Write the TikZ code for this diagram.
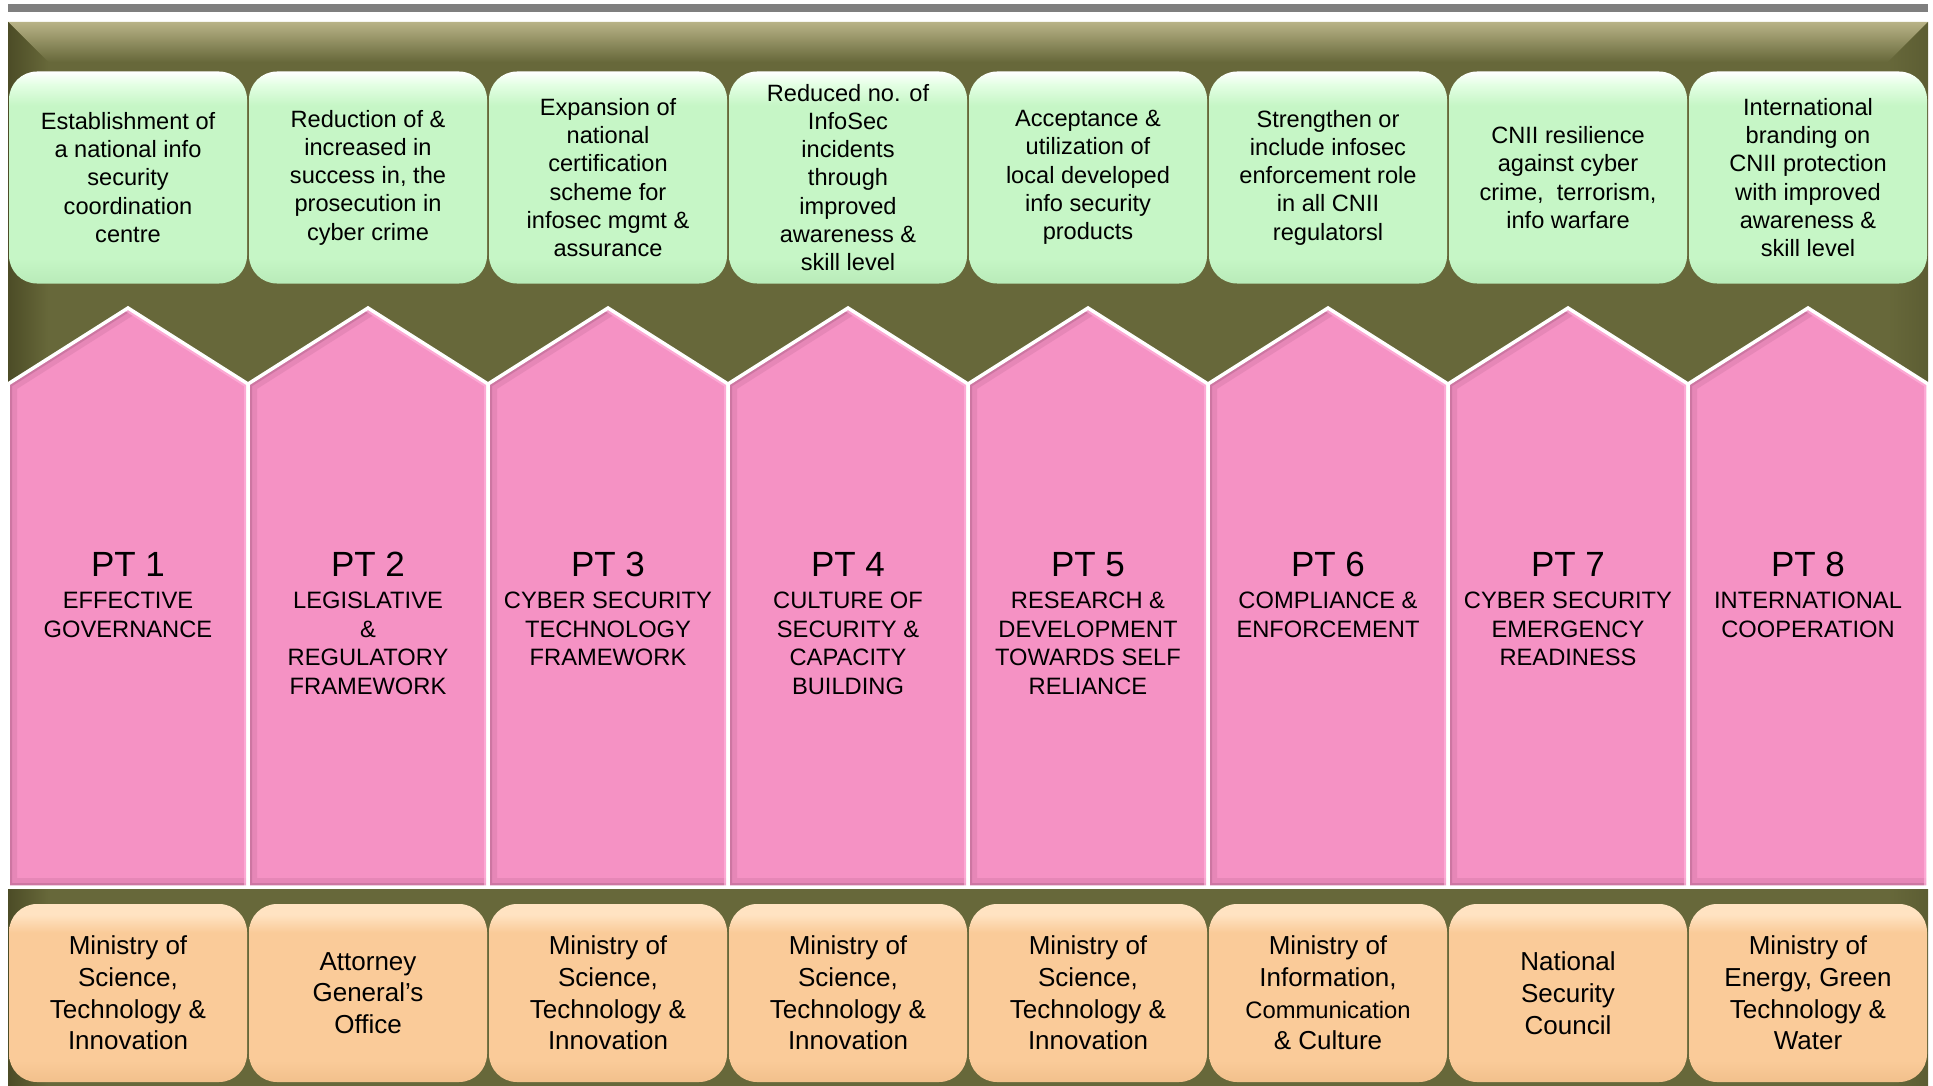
\documentclass[tikz,border=0pt]{standalone}
\usepackage{fontspec}
\setmainfont{Liberation Sans}
\usetikzlibrary{calc}

% palette
\definecolor{topbar}{HTML}{7F7F7F}
\definecolor{frameolive}{HTML}{67683A}
\definecolor{frametan}{HTML}{B8B387}
\definecolor{framedark}{HTML}{4C4C26}
\definecolor{frameright}{HTML}{5C5D33}
\definecolor{greenlo}{HTML}{B9EBB9}
\definecolor{greenmid}{HTML}{C6F6C6}
\definecolor{greenhi}{HTML}{E4FFE4}
\definecolor{pillarpink}{HTML}{F592C4}
\definecolor{pinkdark}{HTML}{8E4A6C}
\definecolor{pinklight}{HTML}{FFB4DC}
\definecolor{peachlo}{HTML}{F2C08C}
\definecolor{peachmid}{HTML}{FACB99}
\definecolor{peachhi}{HTML}{FFE3C2}

% glossy fills for the rounded boxes (path spans 25bp..75bp)
\pgfdeclareverticalshading{greengloss}{100bp}{%
  color(0bp)=(greenlo); color(25bp)=(greenlo); color(31bp)=(greenmid);
  color(67bp)=(greenmid); color(72bp)=(greenhi); color(75bp)=(white);
  color(100bp)=(white)}
\pgfdeclareverticalshading{peachgloss}{100bp}{%
  color(0bp)=(peachlo); color(25bp)=(peachlo); color(31bp)=(peachmid);
  color(67bp)=(peachmid); color(72bp)=(peachhi); color(75bp)=(peachhi);
  color(100bp)=(peachhi)}

\tikzset{
  goalbox/.style={rounded corners=28pt, minimum width=238pt, minimum height=212pt,
    inner sep=0pt, align=center, shading=greengloss, text=black,
    font=\fontsize{23.6}{28.3}\selectfont},
  ownerbox/.style={rounded corners=28pt, minimum width=238pt, minimum height=178pt,
    inner sep=0pt, align=center, shading=peachgloss, text=black,
    font=\fontsize{26}{31.7}\selectfont},
  pttitle/.style={anchor=base, inner sep=0pt, text=black,
    font=\fontsize{35}{42}\selectfont},
  ptsub/.style={anchor=north, inner sep=0pt, align=center, text=black,
    font=\fontsize{23.7}{28.5}\selectfont, execute at begin node=\strut},
}

\begin{document}
\begin{tikzpicture}[x=1pt, y=-1pt]
\useasboundingbox (0,0) rectangle (1933,1086);

% thin grey rule along the top
\fill[topbar] (8,4) rectangle (1928,12);

% olive frame with bevelled edges
\fill[frameolive] (8,22) rectangle (1928,1086);
\shade[top color=frametan, bottom color=frameolive]
  (8,22) -- (1928,22) -- (1888,62) -- (48,62) -- cycle;
\shade[left color=framedark, right color=frameolive]
  (8,22) -- (48,62) -- (48,1086) -- (8,1086) -- cycle;
\shade[left color=frameolive, right color=frameright]
  (1928,22) -- (1888,62) -- (1888,1086) -- (1928,1086) -- cycle;

% eight pink pillars
\foreach \i in {0,...,7}{
  \pgfmathsetmacro{\xa}{8+240*\i}
  \pgfmathsetmacro{\xb}{\xa+240}
  \pgfmathsetmacro{\xc}{\xa+120}
  \fill[pillarpink] (\xa,384) -- (\xc,308) -- (\xb,384) -- (\xb,887) -- (\xa,887) -- cycle;
  \begin{scope}
    \clip (\xa,384) -- (\xc,308) -- (\xb,384) -- (\xb,887) -- (\xa,887) -- cycle;
    \draw[pinkdark, line width=18pt, opacity=0.14, line join=miter]
      (\xb,887) -- (\xa,887) -- (\xa,384) -- (\xc,308);
    \draw[pinkdark, line width=8pt, opacity=0.28, line join=miter]
      (\xb,887) -- (\xa,887) -- (\xa,384) -- (\xc,308);
    \draw[pinklight, line width=8pt, opacity=0.7, line join=miter]
      (\xc,308) -- (\xb,384) -- (\xb,887);
  \end{scope}
  \draw[white, line width=3.5pt, line join=miter]
    (\xa,384) -- (\xc,308) -- (\xb,384) -- (\xb,887) -- (\xa,887) -- cycle;
}

% outcome boxes
\node[goalbox] (g1) at (128,177.5) {Establishment of\\a national info\\security\\coordination\\centre};
\node[goalbox] (g2) at (368,177.5) {Reduction of \&\\increased in\\success in, the\\prosecution in\\cyber crime};
\node[goalbox] (g3) at (608,177.5) {Expansion of\\national\\certification\\scheme for\\infosec mgmt \&\\assurance};
\node[goalbox] (g4) at (848,177.5) {Reduced no. of\\InfoSec\\incidents\\through\\improved\\awareness \&\\skill level};
\node[goalbox] (g5) at (1088,177.5) {Acceptance \&\\utilization of\\local developed\\info security\\products};
\node[goalbox] (g6) at (1328,177.5) {Strengthen or\\include infosec\\enforcement role\\in all CNII\\regulatorsl};
\node[goalbox] (g7) at (1568,177.5) {CNII resilience\\against cyber\\crime,~ terrorism,\\info warfare};
\node[goalbox] (g8) at (1808,177.5) {International\\branding on\\CNII protection\\with improved\\awareness \&\\skill level};

% pillar titles
\node[pttitle] (t1) at (128,576) {PT 1};
\node[pttitle] (t2) at (368,576) {PT 2};
\node[pttitle] (t3) at (608,576) {PT 3};
\node[pttitle] (t4) at (848,576) {PT 4};
\node[pttitle] (t5) at (1088,576) {PT 5};
\node[pttitle] (t6) at (1328,576) {PT 6};
\node[pttitle] (t7) at (1568,576) {PT 7};
\node[pttitle] (t8) at (1808,576) {PT 8};

\node[ptsub] (s1) at (128,592) {EFFECTIVE\\GOVERNANCE};
\node[ptsub] (s2) at (368,592) {LEGISLATIVE\\\&\\REGULATORY\\FRAMEWORK};
\node[ptsub] (s3) at (608,592) {CYBER SECURITY\\TECHNOLOGY\\FRAMEWORK};
\node[ptsub] (s4) at (848,592) {CULTURE OF\\SECURITY \&\\CAPACITY\\BUILDING};
\node[ptsub] (s5) at (1088,592) {RESEARCH \&\\DEVELOPMENT\\TOWARDS SELF\\RELIANCE};
\node[ptsub] (s6) at (1328,592) {COMPLIANCE \&\\ENFORCEMENT};
\node[ptsub] (s7) at (1568,592) {CYBER SECURITY\\EMERGENCY\\READINESS};
\node[ptsub] (s8) at (1808,592) {INTERNATIONAL\\COOPERATION};

% lead agencies
\node[ownerbox] (m1) at (128,993) {Ministry of\\Science,\\Technology \&\\Innovation};
\node[ownerbox] (m2) at (368,993) {Attorney\\General’s\\Office};
\node[ownerbox] (m3) at (608,993) {Ministry of\\Science,\\Technology \&\\Innovation};
\node[ownerbox] (m4) at (848,993) {Ministry of\\Science,\\Technology \&\\Innovation};
\node[ownerbox] (m5) at (1088,993) {Ministry of\\Science,\\Technology \&\\Innovation};
\node[ownerbox] (m6) at (1328,993) {Ministry of\\Information,\\{\fontsize{23.8}{31.7}\selectfont Communication}\\\& Culture};
\node[ownerbox] (m7) at (1568,993) {National\\Security\\Council};
\node[ownerbox] (m8) at (1808,993) {Ministry of\\Energy, Green\\Technology \&\\Water};

\end{tikzpicture}
\end{document}
